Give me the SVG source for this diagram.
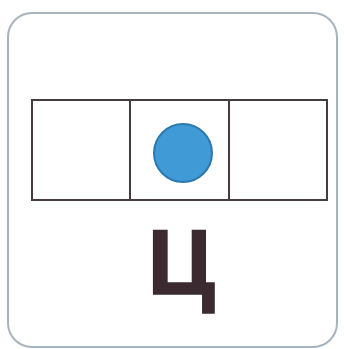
<svg xmlns="http://www.w3.org/2000/svg" width="344" height="349" viewBox="0 0 344 349">
<style>
.cell{fill:none;stroke:#463c3e;stroke-width:2}
.lbl{font-family:"Liberation Sans",Arial,sans-serif;font-weight:bold;fill:#3b2a30;stroke:#3b2a30;stroke-width:1.5}
</style>
<rect x="0" y="0" width="344" height="349" fill="#ffffff"/>
<g id="card"><rect x="8" y="13" width="329" height="334" rx="24" ry="24" fill="#ffffff" stroke="#a9b3bd" stroke-width="2"/></g>
<g id="cell1"><rect class="cell" x="32" y="100" width="98" height="100"/></g>
<g id="cell2"><rect class="cell" x="130" y="100" width="99" height="100"/>
<circle cx="183" cy="153" r="29" fill="#3f9ad6" stroke="#2e78b0" stroke-width="2"/></g>
<g id="cell3"><rect class="cell" x="229" y="100" width="98" height="100"/></g>
<g id="letter"><text class="lbl" x="181" y="294" font-size="92" text-anchor="middle">Ц</text></g>
</svg>
